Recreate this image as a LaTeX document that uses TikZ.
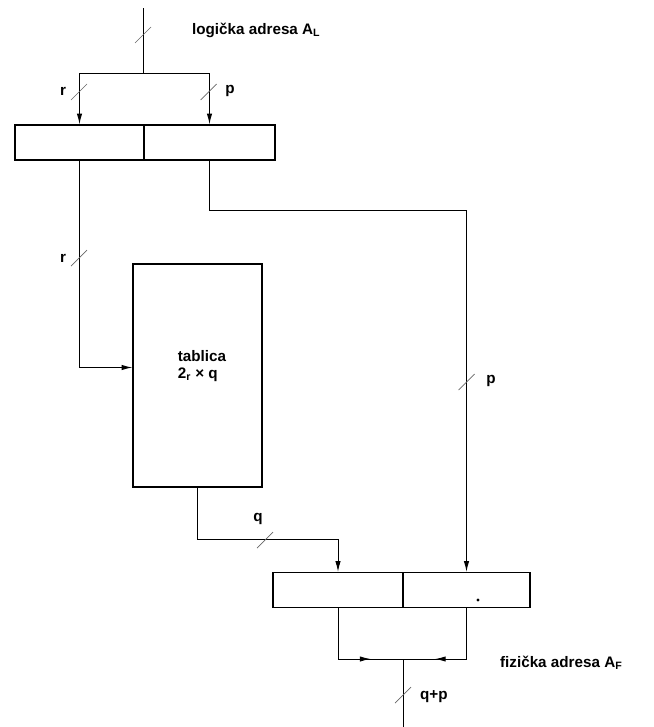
\documentclass[tikz,border=0pt]{standalone}
\usepackage{fontspec}
\setmainfont{Liberation Sans}
\usepackage{tikz}
\usetikzlibrary{positioning, arrows.meta, decorations.markings}

\newcommand{\busmark}[1]{\draw[slash] #1 ++(-8,8) -- ++(16,-16);}

\begin{document}
\begin{tikzpicture}[
    x=0.03cm, y=-0.03cm,
    reg/.style={draw, rectangle, line width=1.1pt, minimum height=35*0.03cm, inner sep=0pt},
    tabl/.style={draw, rectangle, line width=1.1pt, minimum width=129*0.03cm, minimum height=223*0.03cm, inner sep=0pt},
    link/.style={line width=0.8pt},
    arr/.style={link, -{Latex[length=3.2mm, width=1.6mm]}},
    midarr/.style={link, postaction={decorate}, decoration={markings, mark=at position #1 with {\arrow{Latex[length=3.2mm, width=1.6mm]}}}},
    slash/.style={line width=0.6pt, black!60},
    lbl/.style={font=\fontsize{13}{15}\selectfont\bfseries},
]
\useasboundingbox (0,0) rectangle (654,727);

% Registers
\node[reg, minimum width=129*0.03cm] (regL) at (79.5,142.5) {};
\node[reg, minimum width=131*0.03cm] (regR) at (209.5,142.5) {};
\node[reg, minimum width=130*0.03cm] (botL) at (338,590) {};
\node[reg, minimum width=127*0.03cm] (botR) at (466.5,590) {};
\fill (478,600) circle (1.6);

% Page table
\node[tabl] (tab) at (197.5,375.5) {};
\node[lbl, align=left] (tabtxt) at (202,366) {tablica\\2\textsubscript{r} × q};

% Coordinates
\coordinate (in) at (143,8);
\coordinate (split) at (143,73);
\coordinate (pturn) at (466.5,210);
\coordinate (join) at (403,659);
\coordinate (out) at (403,727);

% Logical address
\draw[link] (in) -- (split);
\draw[arr] (split) -| (regL);
\draw[arr] (split) -| (regR);

% Register to table and to physical address
\draw[arr] (regL.south) |- ([yshift=0.24cm]tab.west);
\draw[arr] (regR.south) |- (pturn) -- (botR.north);
\draw[arr] (tab.south) -- ++(0,52) -| (botL.north);

% Physical address
\draw[midarr=0.72] (botL.south) |- (join);
\draw[midarr=0.72] (botR.south) |- (join);
\draw[link] (join) -- (out);

% Bus widths
\busmark{(143,35)}
\busmark{(79,92)}
\busmark{(208.5,92)}
\busmark{(79,258)}
\busmark{(466.5,382)}
\busmark{(265,540)}
\busmark{(403,695)}

% Labels
\node[lbl, anchor=west] (la) at (188,30) {logička adresa A\textsubscript{L}};
\node[lbl] (lr1) at (63,91) {r};
\node[lbl] (lp1) at (230,91) {p};
\node[lbl] (lr2) at (63,258) {r};
\node[lbl] (lp2) at (491,381) {p};
\node[lbl] (lq) at (258,519) {q};
\node[lbl, anchor=west] (lqp) at (416,697) {q+p};
\node[lbl, anchor=west] (fa) at (496,663) {fizička adresa A\textsubscript{F}};
\end{tikzpicture}
\end{document}
